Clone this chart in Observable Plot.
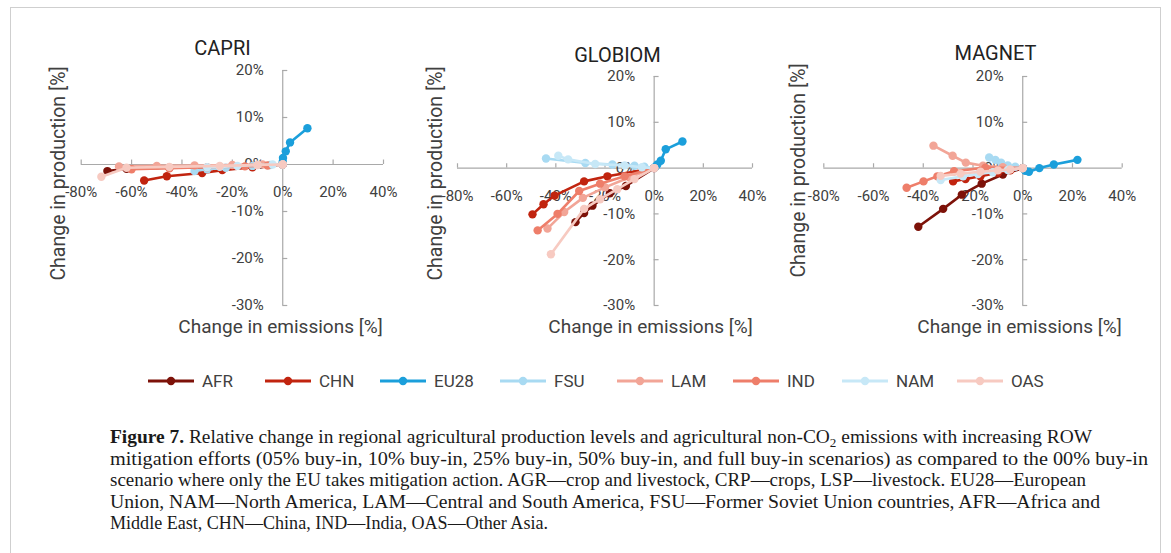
<!DOCTYPE html>
<html>
<head>
<meta charset="utf-8">
<script src="https://cdn.jsdelivr.net/npm/d3@7"></script>
<script src="https://cdn.jsdelivr.net/npm/@observablehq/plot@0.6"></script>
<style>
  body { margin: 0; background: #fff; }
  #fig { position: relative; width: 1171px; height: 553px; overflow: hidden; background: #fff; }
  #frame { position: absolute; left: 10px; top: 7px; width: 1151px; height: 600px; border: 1px solid #cfcfcf; box-sizing: border-box; }
  .abs { position: absolute; }
</style>
</head>
<body>
<div id="fig"><div id="frame"></div></div>
<script>
// Regions and their series colours
const regions = ["AFR", "CHN", "EU28", "FSU", "LAM", "IND", "NAM", "OAS"];
const regionColors = ["#7d1209", "#c1240f", "#1b9fdb", "#a8daf2", "#f2a597", "#ee7e6a", "#c7e8f7", "#f7cac1"];
// Scenarios: 00% buy-in (reference), 05%, 10%, 25%, 50%, full buy-in
const scenarios = ["00%", "05%", "10%", "25%", "50%", "full"];

// Change in emissions [%] per region (rows follow `regions`), one value per scenario
const capriEmissions = [
  [0, -12, -25, -45, -62, -69.6],
  [0, -12, -24, -32, -46, -55],
  [0, 0, 0.1, 1.2, 2.9, 9.8],
  [0, -5, -12, -22.6, -30, -35],
  [0, -8, -20, -35, -50, -65],
  [0, -6, -15, -30, -45, -60],
  [0, -4, -10, -18, -25, -30],
  [0, -10, -25, -45, -62, -72]
];
// Change in production [%]
const capriProduction = [
  [0, -0.3, -0.5, -0.7, -0.9, -1.4],
  [0, -0.6, -1.2, -1.8, -2.5, -3.4],
  [0, 0.6, 1.4, 2.8, 4.7, 7.7],
  [0, -0.1, -0.3, -0.7, -1.0, -1.4],
  [0, 0, -0.1, -0.2, -0.3, -0.4],
  [0, -0.2, -0.4, -0.6, -0.8, -1.0],
  [0, 0, -0.1, -0.3, -0.5, -0.6],
  [0, -0.1, -0.3, -0.5, -0.7, -2.6]
];
const globiomEmissions = [
  [0, -11.5, -18, -25.1, -28.5, -32],
  [0, -19, -28.5, -40.5, -45, -49.5],
  [0, 0.5, 1.3, 2.7, 4.7, 11.5],
  [0, -4, -8, -17, -28, -44],
  [0, -10, -20, -29, -36.6, -43.4],
  [0, -12, -22, -30.5, -39.3, -47.4],
  [0, -5, -12, -24, -35, -39],
  [0, -8, -15, -22, -28.5, -42]
];
const globiomProduction = [
  [0, -3.9, -5.5, -8.2, -9.8, -11.8],
  [0, -1.8, -2.9, -6, -7.9, -10.1],
  [0, 0.3, 0.8, 1.6, 4.1, 5.8],
  [0, 0.3, 0.5, 0.8, 1.1, 2.1],
  [0, -2, -4.2, -6.5, -9.6, -13.2],
  [0, -1.8, -3.4, -5, -10, -13.6],
  [0, 0.2, 0.6, 0.9, 1.9, 2.7],
  [0, -2.4, -4.6, -6.8, -8.9, -18.8]
];
const magnetEmissions = [
  [0, -8, -16.5, -24.5, -32, -42],
  [0, -5, -10, -17, -23, -28],
  [0, 1, 2.5, 6.7, 12.5, 22],
  [0, -3, -6, -8.7, -11, -13.5],
  [0, -8, -16, -22.9, -28.2, -35.9],
  [0, -15, -27.6, -34.3, -39.9, -46.7],
  [0, -6, -12, -18, -24, -33],
  [0, -5, -10, -17, -25, -33]
];
const magnetProduction = [
  [0, -1.4, -3.4, -5.8, -8.9, -12.8],
  [0, -0.5, -1, -1.8, -2.4, -2.9],
  [0, -0.6, -0.8, 0, 0.8, 1.8],
  [0, 0.3, 0.6, 1.2, 1.8, 2.3],
  [0, 0.2, 0.5, 1.2, 2.7, 4.9],
  [0, 0.1, -0.7, -1.8, -2.9, -4.3],
  [0, -0.4, -0.9, -1.3, -1.8, -2.6],
  [0, -0.3, -0.5, -0.8, -1.2, -1.7]
];

// Axis ticks
const xTicks = [-80, -60, -40, -20, 0, 20, 40];
const yTicks = [-30, -20, -10, 0, 10, 20];
const xTitle = "Change in emissions [%]";
const yTitle = "Change in production [%]";

const axisGray = "#a9a9a9";
const textGray = "#404040";
const fig = document.getElementById("fig");

// Page-pixel layout of each panel: axis extents ([-80%, 40%] and [-30%, 20%]) and title anchors
const panels = [
  {name: "CAPRI", emis: capriEmissions, prod: capriProduction, left: 25, top: 25, width: 380, height: 320,
   xr: [80.7, 383], yr: [305, 70], title: [222, 48], yt: [58, 173], xt: [280, 326]},
  {name: "GLOBIOM", emis: globiomEmissions, prod: globiomProduction, left: 405, top: 25, width: 370, height: 320,
   xr: [457, 752], yr: [305, 76], title: [617, 55], yt: [435, 173], xt: [650, 326]},
  {name: "MAGNET", emis: magnetEmissions, prod: magnetProduction, left: 775, top: 25, width: 380, height: 320,
   xr: [823.3, 1121.7], yr: [305, 76], title: [995, 53], yt: [798, 170], xt: [1019, 326]}
];

for (const p of panels) {
  const rows = [];
  regions.forEach((region, i) => {
    p.emis[i].forEach((x, j) => rows.push({region, scenario: scenarios[j], x, y: p.prod[i][j]}));
  });
  const L = p.left, T = p.top;
  // each series draws its line then its markers, in legend order
  const seriesMarks = regions.flatMap(region => {
    const d = rows.filter(r => r.region === region);
    return [
      Plot.line(d, {x: "x", y: "y", stroke: "region", strokeWidth: 2.6}),
      Plot.dot(d, {x: "x", y: "y", fill: "region", r: 4.2})
    ];
  });
  const chart = Plot.plot({
    width: p.width,
    height: p.height,
    marginLeft: 0, marginRight: 0, marginTop: 0, marginBottom: 0,
    x: {domain: [-80, 40], range: p.xr.map(v => v - L), axis: null},
    y: {domain: [-30, 20], range: p.yr.map(v => v - T), axis: null},
    color: {domain: regions, range: regionColors},
    style: {fontFamily: "Roboto, sans-serif", fontSize: "15px", color: textGray, background: "transparent", overflow: "visible"},
    marks: [
      // axes crossing at the origin
      Plot.ruleY([0], {x1: () => -80, x2: () => 40, stroke: axisGray, strokeWidth: 1.2}),
      Plot.ruleX([0], {y1: () => -30, y2: () => 20, stroke: axisGray, strokeWidth: 1.2}),
      Plot.ruleX(xTicks, {x: d => d, y1: () => 0, y2: () => 0.95, stroke: axisGray, strokeWidth: 1.2}),
      Plot.ruleY(yTicks, {y: d => d, x1: () => 0, x2: () => 2, stroke: axisGray, strokeWidth: 1.2}),
      Plot.text(xTicks, {x: d => d, y: () => 0, dy: 28, text: d => d + "%", fill: textGray, fontSize: 15}),
      Plot.text(yTicks, {x: () => 0, y: d => d, dx: -19, textAnchor: "end", text: d => d + "%", fill: textGray, fontSize: 15}),
      ...seriesMarks,
      // panel title and axis titles
      Plot.text([p.name], {frameAnchor: "top-left", dx: p.title[0] - L, dy: p.title[1] - T, text: d => d,
        textAnchor: "middle", lineAnchor: "middle", fontSize: 20, fill: "#222"}),
      Plot.text([yTitle], {frameAnchor: "top-left", dx: p.yt[0] - L, dy: p.yt[1] - T, text: d => d, rotate: -90,
        textAnchor: "middle", lineAnchor: "middle", fontSize: 19.5, fill: textGray}),
      Plot.text([xTitle], {frameAnchor: "top-left", dx: p.xt[0] - L, dy: p.xt[1] - T, text: d => d,
        textAnchor: "middle", lineAnchor: "middle", fontSize: 19, fill: textGray})
    ]
  });
  chart.classList.add("abs");
  chart.style.left = L + "px";
  chart.style.top = T + "px";
  chart.style.maxWidth = "none";
  fig.appendChild(chart);
}

// Legend row: line with a marker, then the region name
const legendX = [148, 265, 380, 500, 617, 733, 842, 957];
const legend = d3.create("svg").attr("class", "abs").attr("width", 1171).attr("height", 40)
  .style("left", "0px").style("top", "361px");
regions.forEach((r, i) => {
  const g = legend.append("g").attr("transform", `translate(${legendX[i]},20)`);
  g.append("line").attr("x1", 0).attr("x2", 46).attr("stroke", regionColors[i]).attr("stroke-width", 3);
  g.append("circle").attr("cx", 23).attr("r", 4.2).attr("fill", regionColors[i]);
  g.append("text").attr("x", 54).attr("dy", "0.35em").attr("font-family", "Roboto, sans-serif")
    .attr("font-size", 17).attr("fill", textGray).text(r);
});
fig.appendChild(legend.node());

// Figure caption
const captionLines = [
  [{t: "Figure 7.", b: true}, {t: " Relative change in regional agricultural production levels and agricultural non-CO"}, {t: "2", sub: true}, {t: " emissions with increasing ROW", up: true}],
  [{t: "mitigation efforts (05% buy-in, 10% buy-in, 25% buy-in, 50% buy-in, and full buy-in scenarios) as compared to the 00% buy-in"}],
  [{t: "scenario where only the EU takes mitigation action. AGR\u2014crop and livestock, CRP\u2014crops, LSP\u2014livestock. EU28\u2014European"}],
  [{t: "Union, NAM\u2014North America, LAM\u2014Central and South America, FSU\u2014Former Soviet Union countries, AFR\u2014Africa and"}],
  [{t: "Middle East, CHN\u2014China, IND\u2014India, OAS\u2014Other Asia."}]
];
const captionWidths = [982, 1038, 976, 990, 438];
const cap = d3.create("svg").attr("class", "abs").attr("width", 1171).attr("height", 140)
  .style("left", "0px").style("top", "415px");
captionLines.forEach((parts, i) => {
  const t = cap.append("text").attr("x", 110).attr("y", 28 + i * 21.6)
    .attr("font-family", "'Liberation Serif', serif").attr("font-size", 18.5).attr("fill", "#1a1a1a")
    .attr("textLength", captionWidths[i]).attr("lengthAdjust", "spacingAndGlyphs");
  parts.forEach(p => {
    const s = t.append("tspan").text(p.t);
    if (p.b) s.attr("font-weight", "bold");
    if (p.sub) s.attr("font-size", 12.5).attr("dy", 4);
    if (p.up) s.attr("dy", -4);
  });
});
fig.appendChild(cap.node());
</script>
</body>
</html>
